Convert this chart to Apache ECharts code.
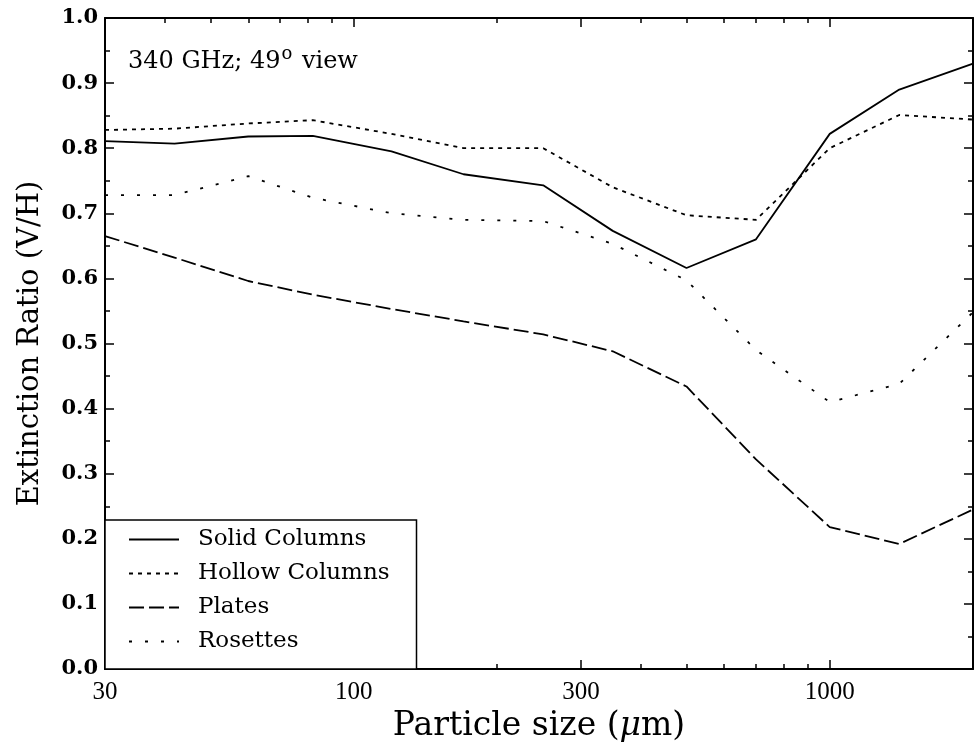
<!DOCTYPE html>
<html>
<head>
<meta charset="utf-8">
<script src="https://cdn.jsdelivr.net/npm/echarts@6/dist/echarts.min.js"></script>
<style>html,body{margin:0;padding:0;background:#fff}#c{width:974px;height:750px}</style>
</head>
<body>
<div id="c"></div>
<script>
// ---- data ----
const sizes = [30, 42, 60, 82, 120, 170, 250, 350, 500, 700, 1000, 1400, 2000];
const solidColumns  = [0.811, 0.807, 0.818, 0.819, 0.795, 0.760, 0.743, 0.673, 0.616, 0.660, 0.822, 0.890, 0.930];
const hollowColumns = [0.828, 0.830, 0.838, 0.843, 0.822, 0.800, 0.800, 0.740, 0.697, 0.690, 0.800, 0.851, 0.844];
const plates        = [0.665, 0.632, 0.596, 0.575, 0.553, 0.534, 0.514, 0.488, 0.434, 0.322, 0.218, 0.192, 0.245];
const rosettes      = [0.728, 0.728, 0.757, 0.724, 0.700, 0.690, 0.688, 0.653, 0.597, 0.490, 0.410, 0.438, 0.548];
const seriesNames = ['Solid Columns', 'Hollow Columns', 'Plates', 'Rosettes'];
const xTickLabels = [30, 100, 300, 1000];
const xMajorTicks = [100, 300, 1000];
const xMinorTicks = [40, 50, 60, 70, 80, 90, 200, 400, 500, 600, 700, 800, 900, 2000];

const FONT = 'DejaVu Serif';
const chart = echarts.init(document.getElementById('c'), null, {renderer: 'canvas'});
const pair = (ys) => sizes.map((x, i) => [x, ys[i]]);

function xAx(pos, minor, labels) {
  return {
    type: 'log', logBase: 10, min: 30, max: 2000, position: pos,
    axisLine: {show: !minor, lineStyle: {color: '#000', width: 2}},
    axisTick: {show: true, inside: true, length: minor ? 5 : 9, lineStyle: {color: '#000', width: 1.5},
               customValues: minor ? xMinorTicks : xMajorTicks},
    axisLabel: labels ? {show: true, customValues: xTickLabels, color: '#000', fontFamily: 'Liberation Serif',
      fontSize: 25, margin: 11, formatter: (v) => String(Math.round(v))} : {show: false},
    splitLine: {show: false}, minorTick: {show: false}
  };
}
function yAx(pos, labels) {
  return {
    type: 'value', min: 0, max: 1, interval: 0.1, position: pos,
    axisLine: {show: true, lineStyle: {color: '#000', width: 2}},
    axisTick: {show: true, inside: true, length: 9, lineStyle: {color: '#000', width: 1.5}},
    minorTick: {show: true, splitNumber: 2, length: 5, lineStyle: {color: '#000', width: 1.5}},
    axisLabel: labels ? {show: true, color: '#000', fontFamily: FONT, fontWeight: 'bold', fontSize: 21, margin: 7,
      formatter: (v) => v.toFixed(1)} : {show: false},
    splitLine: {show: false},
    name: labels ? 'Extinction Ratio (V/H)' : '', nameLocation: 'middle', nameGap: 60,
    nameTextStyle: {color: '#000', fontFamily: FONT, fontSize: 29}
  };
}

const xAxes = [xAx('bottom', false, true), xAx('bottom', true, false), xAx('top', false, false), xAx('top', true, false)];
xAxes[0].name = 'Particle size ({it|μ}m)';
xAxes[0].nameLocation = 'middle';
xAxes[0].nameGap = 34;
xAxes[0].nameTextStyle = {color: '#000', fontFamily: FONT, fontSize: 33, rich: {it: {fontFamily: FONT, fontSize: 33, fontStyle: 'italic', color: '#000'}}};

const styles = [
  {type: 'solid'},
  {type: [4, 5]},
  {type: [15, 5]},
  {type: [3, 13]}
];
const dataSets = [solidColumns, hollowColumns, plates, rosettes];

chart.setOption({
  animation: false,
  backgroundColor: '#fff',
  grid: {left: 105, right: 1, top: 18, bottom: 81, containLabel: false},
  xAxis: xAxes,
  yAxis: [yAx('left', true), yAx('right', false)],
  legend: {
    left: 105, bottom: 81, orient: 'vertical',
    data: seriesNames,
    backgroundColor: '#fff', borderColor: '#000', borderWidth: 1.5, borderRadius: 0,
    padding: [8, 27, 16, 23], itemGap: 11, itemWidth: 50, itemHeight: 22,
    itemStyle: {opacity: 0},
    textStyle: {color: '#000', fontFamily: FONT, fontSize: 23, lineHeight: 22, padding: [0, 0, 0, 14]}
  },
  graphic: [{
    type: 'text', left: 128, top: 45,
    style: {
      text: '340 GHz; 49{sup|o} view',
      fill: '#000', font: '24px "DejaVu Serif"',
      rich: {sup: {fontSize: 18, fontFamily: FONT, fill: '#000', padding: [0, 2, 15, 1]}}
    }
  }],
  series: seriesNames.map((n, i) => ({
    name: n, type: 'line', xAxisIndex: 0, yAxisIndex: 0,
    data: pair(dataSets[i]), symbol: 'none', smooth: false,
    lineStyle: Object.assign({color: '#000', width: 1.8}, styles[i]),
    itemStyle: {color: '#000'}
  }))
});
</script>
</body>
</html>
